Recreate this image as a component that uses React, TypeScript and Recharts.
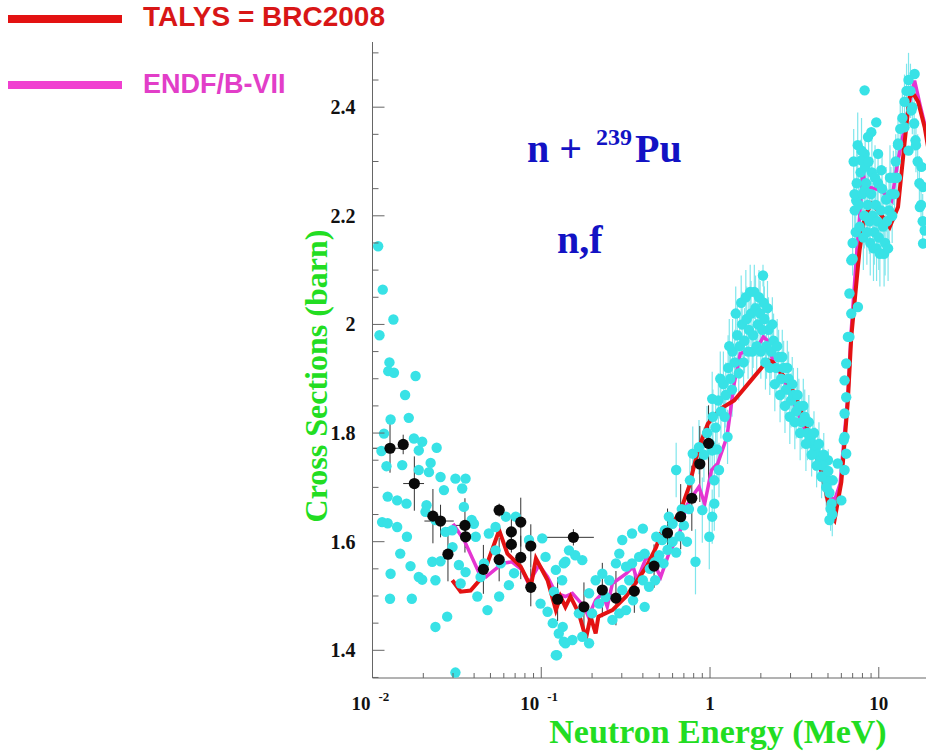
import React from "react";
import {
  ComposedChart,
  XAxis,
  YAxis,
  Scatter,
  Line,
  ErrorBar,
  Customized,
} from "recharts";

// ---- axis ticks ----
const xTicks = [
  0.01, 0.02, 0.03, 0.04, 0.05, 0.06, 0.07, 0.08, 0.09, 0.1, 0.2, 0.3, 0.4,
  0.5, 0.6, 0.7, 0.8, 0.9, 1, 2, 3, 4, 5, 6, 7, 8, 9, 10, 20,
];
const xMajor = [0.01, 0.1, 1, 10];
const xMajorBase = ["10", "10", "1", "10"];
const xMajorExp = ["-2", "-1", "", ""];

const yTicks = [
  1.35, 1.4, 1.45, 1.5, 1.55, 1.6, 1.65, 1.7, 1.75, 1.8, 1.85, 1.9, 1.95, 2,
  2.05, 2.1, 2.15, 2.2, 2.25, 2.3, 2.35, 2.4, 2.45, 2.5,
];
const yMajor = [1.4, 1.6, 1.8, 2, 2.2, 2.4];
const yMajorLabel = ["1.4", "1.6", "1.8", "2", "2.2", "2.4"];

// ---- data: [energy MeV, sigma barn] ----
const cyanDots: [number, number][] = [
  [0.0108, 2.144], [0.0115, 2.064], [0.0133, 2.009], [0.011, 1.98], [0.0126, 1.93],
  [0.0124, 1.914], [0.0134, 1.911], [0.018, 1.905], [0.0156, 1.87], [0.0128, 1.825],
  [0.0164, 1.828], [0.0117, 1.799], [0.0176, 1.79], [0.0197, 1.784], [0.024, 1.773],
  [0.0113, 1.767], [0.0188, 1.768], [0.0121, 1.739], [0.015, 1.741], [0.0221, 1.745],
  [0.0188, 1.732], [0.0216, 1.728], [0.0253, 1.719], [0.031, 1.716], [0.0356, 1.716],
  [0.0265, 1.695], [0.034, 1.698], [0.0123, 1.683], [0.014, 1.676], [0.0159, 1.67],
  [0.0209, 1.667], [0.0348, 1.664], [0.0206, 1.655], [0.0387, 1.64], [0.0114, 1.636],
  [0.0123, 1.634], [0.014, 1.627], [0.016, 1.609], [0.0236, 1.64], [0.0271, 1.618],
  [0.0297, 1.621], [0.0399, 1.633], [0.0146, 1.578], [0.0168, 1.555], [0.0226, 1.563],
  [0.0253, 1.564], [0.0298, 1.59], [0.0325, 1.557], [0.0409, 1.609], [0.0356, 1.544],
  [0.0489, 1.615], [0.0536, 1.584], [0.0437, 1.535], [0.0458, 1.56], [0.0128, 1.541],
  [0.0188, 1.535], [0.0197, 1.53], [0.0236, 1.529], [0.0333, 1.523], [0.0127, 1.495],
  [0.0171, 1.495], [0.0418, 1.499], [0.048, 1.474], [0.0563, 1.499], [0.0277, 1.462],
  [0.0236, 1.443], [0.031, 1.359], [0.0575, 1.56], [0.0536, 1.627], [0.0617, 1.646],
  [0.0706, 1.646], [0.069, 1.542], [0.0643, 1.52], [0.0846, 1.603], [0.1013, 1.606],
  [0.099, 1.486], [0.109, 1.471], [0.119, 1.508], [0.133, 1.529], [0.127, 1.431],
  [0.124, 1.391], [0.136, 1.416], [0.136, 1.56], [0.106, 1.572], [0.122, 1.548],
  [0.139, 1.563], [0.159, 1.575], [0.175, 1.566], [0.146, 1.584], [0.117, 1.45],
  [0.134, 1.443], [0.139, 1.413], [0.153, 1.419], [0.175, 1.425], [0.192, 1.413],
  [0.122, 1.391], [0.167, 1.468], [0.2, 1.468], [0.22, 1.486], [0.192, 1.505],
  [0.21, 1.529], [0.23, 1.541], [0.253, 1.529], [0.241, 1.498], [0.264, 1.456],
  [0.29, 1.468], [0.318, 1.474], [0.302, 1.511], [0.332, 1.529], [0.318, 1.554],
  [0.29, 1.578], [0.302, 1.603], [0.345, 1.615], [0.4, 1.624], [0.277, 1.56],
  [0.345, 1.56], [0.38, 1.572], [0.41, 1.578], [0.4, 1.529], [0.435, 1.517],
  [0.473, 1.529], [0.41, 1.48], [0.35, 1.492], [0.54, 1.621], [0.57, 1.646],
  [0.48, 1.609], [0.52, 1.603], [0.6, 1.633], [0.44, 1.55], [0.47, 1.562],
  [0.5, 1.575], [0.53, 1.56], [0.56, 1.585], [0.6, 1.6], [0.63, 1.58],
  [0.66, 1.61], [0.7, 1.63], [0.73, 1.6], [0.75, 1.66], [0.68, 1.66],
  [5.0, 1.75], [5.33, 1.713], [5.1, 1.64], [5.71, 1.744], [6.0, 1.676],
  [6.41, 1.762], [6.27, 1.793], [6.27, 1.836], [6.41, 1.866], [6.27, 1.897],
  [6.41, 1.928], [6.7, 1.977], [6.87, 2.02], [6.7, 2.057], [7.52, 2.032],
  [6.2, 1.787], [6.27, 1.732], [6.56, 1.977], [6.87, 2.118], [7.0, 2.121],
  [8.24, 2.431], [9.66, 2.372], [9.03, 2.354], [8.63, 2.345], [8.24, 2.314],
  [9.9, 2.314], [7.87, 2.302], [7.35, 2.228], [7.18, 2.24], [8.24, 2.247],
  [10.35, 2.284], [13.0, 2.333], [14.2, 2.363], [15.6, 2.394], [16.3, 2.461],
  [15.0, 2.32], [16.5, 2.339], [17.9, 2.29], [18.3, 2.253], [17.5, 2.216],
  [18.7, 2.173], [18.3, 2.149],
];

// [energy, sigma, error] - the dense measured band with error bars
const cyanBand: [number, number, number][] = [
  [0.63, 1.732, 0.05], [0.76, 1.713, 0.05], [0.79, 1.762, 0.05], [0.82, 1.563, 0.06],
  [0.86, 1.774, 0.05], [0.9, 1.658, 0.06], [0.99, 1.609, 0.06], [1.03, 1.646, 0.05],
  [1.06, 1.713, 0.05], [1.03, 1.768, 0.05], [1.06, 1.67, 0.05], [1.13, 1.732, 0.05],
  [1.27, 1.793, 0.05], [1.03, 1.863, 0.05],
  [0.92, 1.76, 0.05], [0.96, 1.8, 0.05], [1.0, 1.78, 0.05], [1.04, 1.83, 0.05],
  [1.08, 1.81, 0.05], [1.12, 1.86, 0.05], [1.16, 1.84, 0.05], [1.2, 1.89, 0.06],
  [1.24, 1.87, 0.06], [1.28, 1.92, 0.06], [1.32, 1.9, 0.06], [1.36, 1.95, 0.06],
  [1.4, 1.93, 0.06], [1.45, 1.98, 0.06], [1.5, 1.96, 0.06], [1.55, 2.0, 0.06],
  [1.6, 1.97, 0.06], [1.65, 2.01, 0.06], [1.7, 1.99, 0.06], [1.75, 2.02, 0.06],
  [1.8, 1.98, 0.06], [1.86, 2.03, 0.06], [1.92, 2.0, 0.06], [1.98, 2.02, 0.06],
  [2.04, 1.99, 0.06], [2.06, 2.09, 0.02], [2.1, 2.01, 0.06], [2.16, 1.96, 0.06],
  [2.22, 1.99, 0.06], [2.3, 1.95, 0.05], [2.38, 1.97, 0.05], [2.46, 1.92, 0.05],
  [2.55, 1.94, 0.05], [2.64, 1.9, 0.05], [2.73, 1.92, 0.05], [2.82, 1.88, 0.05],
  [2.92, 1.9, 0.05], [3.02, 1.86, 0.05], [3.12, 1.87, 0.05], [3.24, 1.84, 0.05],
  [3.36, 1.85, 0.05], [3.5, 1.82, 0.05], [3.64, 1.83, 0.05], [3.78, 1.8, 0.05],
  [3.92, 1.79, 0.04], [4.06, 1.78, 0.04], [4.2, 1.77, 0.04], [4.35, 1.76, 0.04],
  [4.5, 1.75, 0.04], [4.65, 1.74, 0.04], [4.8, 1.72, 0.04], [4.95, 1.71, 0.04],
  [5.1, 1.69, 0.04], [5.25, 1.67, 0.04],
  [1.1, 1.77, 0.05], [1.15, 1.9, 0.05], [1.22, 1.83, 0.05], [1.3, 1.96, 0.05],
  [1.35, 1.88, 0.05], [1.42, 2.02, 0.05], [1.48, 1.91, 0.05], [1.53, 2.04, 0.05],
  [1.58, 1.93, 0.05], [1.63, 2.05, 0.05], [1.68, 1.95, 0.05], [1.73, 2.06, 0.05],
  [1.78, 1.95, 0.05], [1.83, 2.06, 0.05], [1.89, 1.96, 0.05], [1.95, 2.05, 0.05],
  [2.0, 1.95, 0.05], [2.08, 2.04, 0.05], [2.13, 1.93, 0.05], [2.19, 2.03, 0.05],
  [2.26, 1.92, 0.05], [2.34, 2.0, 0.05], [2.42, 1.89, 0.05], [2.5, 1.96, 0.05],
  [2.6, 1.87, 0.05], [2.68, 1.94, 0.05], [2.78, 1.85, 0.05], [2.87, 1.92, 0.05],
  [2.97, 1.83, 0.05], [3.07, 1.89, 0.05], [3.18, 1.82, 0.05], [3.3, 1.87, 0.05],
  [3.42, 1.8, 0.05], [3.57, 1.85, 0.05], [3.7, 1.78, 0.05], [3.85, 1.82, 0.05],
  [4.0, 1.76, 0.04], [4.13, 1.8, 0.04], [4.28, 1.74, 0.04], [4.42, 1.78, 0.04],
  [4.58, 1.72, 0.04], [4.72, 1.76, 0.04], [4.88, 1.7, 0.04], [5.02, 1.73, 0.04],
  [5.18, 1.66, 0.04], [5.3, 1.65, 0.04],
  [7.0, 2.15, 0.06], [7.2, 2.21, 0.06], [7.4, 2.26, 0.06], [7.6, 2.22, 0.06],
  [7.8, 2.28, 0.06], [8.0, 2.24, 0.06], [8.2, 2.2, 0.06], [8.4, 2.26, 0.06],
  [8.6, 2.22, 0.06], [8.8, 2.19, 0.06], [9.0, 2.24, 0.06], [9.2, 2.2, 0.06],
  [9.4, 2.17, 0.06], [9.6, 2.22, 0.06], [9.8, 2.19, 0.06], [10.0, 2.16, 0.06],
  [10.3, 2.21, 0.06], [10.6, 2.18, 0.06], [10.9, 2.15, 0.06], [11.2, 2.19, 0.06],
  [11.5, 2.21, 0.06], [11.8, 2.24, 0.05], [12.2, 2.27, 0.05], [12.6, 2.3, 0.05],
  [13.0, 2.33, 0.05], [13.4, 2.36, 0.05], [13.8, 2.38, 0.05], [14.2, 2.41, 0.05],
  [14.6, 2.43, 0.05], [15.0, 2.45, 0.05], [15.4, 2.43, 0.05], [15.8, 2.4, 0.05],
  [16.2, 2.37, 0.05], [16.6, 2.33, 0.05], [17.0, 2.3, 0.05], [17.4, 2.26, 0.05],
  [17.8, 2.22, 0.05], [18.2, 2.19, 0.05],
  [7.1, 2.3, 0.06], [7.3, 2.17, 0.06], [7.5, 2.33, 0.06], [7.7, 2.18, 0.06],
  [7.9, 2.32, 0.06], [8.1, 2.16, 0.06], [8.3, 2.29, 0.06], [8.5, 2.17, 0.06],
  [8.7, 2.3, 0.06], [8.9, 2.15, 0.06], [9.1, 2.28, 0.06], [9.3, 2.14, 0.06],
  [9.5, 2.27, 0.06], [9.7, 2.14, 0.06], [9.9, 2.26, 0.06], [10.15, 2.13, 0.06],
  [10.45, 2.25, 0.06], [10.75, 2.13, 0.06], [11.05, 2.23, 0.06], [11.35, 2.14, 0.06],
  [11.65, 2.27, 0.06], [12.0, 2.2, 0.05], [12.4, 2.24, 0.05], [12.8, 2.27, 0.05],
];

// [energy, sigma, yErr, xErrLow, xErrHigh]
const blackPoints: [number, number, number, number, number][] = [
  [0.0127, 1.772, 0.045, 0.0027, 0.0025], [0.0152, 1.779, 0.018, 0, 0],
  [0.0177, 1.707, 0.05, 0.0025, 0.0025], [0.0228, 1.647, 0.05, 0, 0],
  [0.0253, 1.638, 0.03, 0.005, 0.005], [0.028, 1.577, 0.05, 0, 0],
  [0.0353, 1.63, 0.05, 0.0055, 0.0056], [0.0356, 1.609, 0.02, 0, 0],
  [0.0454, 1.549, 0.045, 0, 0], [0.0563, 1.658, 0.012, 0, 0],
  [0.0563, 1.567, 0.04, 0, 0], [0.0665, 1.618, 0.03, 0, 0],
  [0.0665, 1.595, 0.015, 0, 0], [0.0756, 1.636, 0.045, 0, 0],
  [0.0756, 1.571, 0.04, 0, 0], [0.0867, 1.592, 0.04, 0, 0],
  [0.0867, 1.516, 0.035, 0, 0], [0.155, 1.608, 0.015, 0.049, 0.05],
  [0.125, 1.494, 0.04, 0, 0], [0.179, 1.48, 0.045, 0, 0],
  [0.23, 1.511, 0.05, 0, 0], [0.277, 1.496, 0.05, 0, 0],
  [0.356, 1.509, 0.04, 0, 0], [0.466, 1.555, 0.04, 0, 0],
  [0.56, 1.616, 0.045, 0, 0], [0.67, 1.646, 0.06, 0, 0],
  [0.78, 1.68, 0.06, 0, 0], [0.87, 1.743, 0.07, 0, 0],
  [0.98, 1.781, 0.07, 0, 0],
];

const talys: [number, number][] = [
  [0.0297, 1.529], [0.0333, 1.508], [0.0381, 1.51], [0.0448, 1.535], [0.0563, 1.621],
  [0.063, 1.578], [0.0756, 1.554], [0.0867, 1.517], [0.093, 1.569], [0.109, 1.529],
  [0.122, 1.474], [0.13, 1.499], [0.139, 1.48], [0.149, 1.499], [0.167, 1.468],
  [0.184, 1.422], [0.196, 1.462], [0.21, 1.431], [0.218, 1.462], [0.264, 1.474],
  [0.318, 1.499], [0.36, 1.523], [0.42, 1.554], [0.48, 1.59], [0.51, 1.615],
  [0.57, 1.627], [0.66, 1.652], [0.75, 1.701], [0.82, 1.75], [0.9, 1.79],
  [0.97, 1.817], [1.16, 1.845], [1.39, 1.86], [1.75, 1.897], [2.2, 1.934],
  [2.35, 1.931], [2.76, 1.903], [3.17, 1.873], [3.8, 1.805], [4.56, 1.732],
  [5.17, 1.652], [5.47, 1.64], [6.0, 1.71], [6.56, 1.86], [6.87, 1.977],
  [7.18, 2.04], [7.52, 2.106], [7.69, 2.136], [8.24, 2.198], [9.03, 2.222],
  [9.9, 2.21], [11.6, 2.179], [13.0, 2.216], [14.2, 2.333], [15.2, 2.418],
  [16.0, 2.425], [17.1, 2.41], [18.7, 2.363], [20, 2.31],
];

const endf: [number, number][] = [
  [0.03, 1.633], [0.035, 1.602], [0.043, 1.541], [0.047, 1.535], [0.059, 1.56],
  [0.067, 1.563], [0.077, 1.548], [0.084, 1.523], [0.097, 1.557], [0.109, 1.535],
  [0.122, 1.505], [0.139, 1.499], [0.153, 1.505], [0.18, 1.48], [0.19, 1.462],
  [0.21, 1.492], [0.23, 1.505], [0.246, 1.48], [0.264, 1.523], [0.318, 1.541],
  [0.35, 1.554], [0.37, 1.529], [0.42, 1.572], [0.455, 1.566], [0.51, 1.535],
  [0.57, 1.578], [0.66, 1.615], [0.72, 1.664], [0.78, 1.682], [0.86, 1.701],
  [0.93, 1.67], [1.02, 1.732], [1.11, 1.744], [1.26, 1.793], [1.39, 1.891],
  [1.51, 1.946], [1.66, 1.952], [1.81, 1.946], [2.07, 1.977], [2.2, 1.97],
  [2.35, 1.934], [2.76, 1.897], [3.28, 1.842], [3.8, 1.793], [4.4, 1.744],
  [4.98, 1.689], [5.47, 1.676], [5.9, 1.707], [6.56, 1.87], [6.87, 1.99],
  [7.35, 2.12], [7.7, 2.2], [8.05, 2.284], [8.24, 2.26], [8.63, 2.253],
  [10.35, 2.247], [11.9, 2.228], [13.0, 2.302], [15.6, 2.425], [16.3, 2.449],
  [17.5, 2.406], [19, 2.36], [20, 2.32],
];

// ---- styles ----
const AXIS = "#666";
const SERIF = "'Liberation Serif', 'Times New Roman', serif";
const SANS = "'Liberation Sans', Arial, sans-serif";
const CYAN = "#38e2e6";
const CYAN_ERR = "#7fe6ec";
const RED = "#e31212";
const MAGENTA = "#e535d2";
const GREEN = "#22dd22";
const BLUE = "#1212c4";

const cyanData = cyanDots.map(([e, v]) => ({ e, v }));
const bandData = cyanBand.map(([e, v, err]) => ({ e, v, err }));
const blackData = blackPoints.map(([e, v, ey, xl, xh]) => ({ e, v, ey, ex: [xl, xh] }));
const talysData = talys.map(([e, v]) => ({ e, v }));
const endfData = endf.map(([e, v]) => ({ e, v }));

function BottomTick(props: any) {
  const { x, y, payload } = props;
  const i = xMajor.indexOf(payload.value);
  const major = i >= 0;
  return (
    <g>
      <line x1={x} y1={y} x2={x} y2={y - (major ? 11 : 5)} stroke={AXIS} />
      {major && xMajorExp[i] !== "" && (
        <g fontFamily={SERIF} fontWeight="bold" fill="#111">
          <text x={x - 2} y={y + 32} textAnchor="end" fontSize={19}>
            {xMajorBase[i]}
          </text>
          <text x={x + 6} y={y + 23} textAnchor="start" fontSize={13}>
            {xMajorExp[i]}
          </text>
        </g>
      )}
      {major && xMajorExp[i] === "" && (
        <text
          x={x}
          y={y + 32}
          textAnchor="middle"
          fontSize={19}
          fontFamily={SERIF}
          fontWeight="bold"
          fill="#111"
        >
          {xMajorBase[i]}
        </text>
      )}
    </g>
  );
}

function TopTick(props: any) {
  const { x, y, payload } = props;
  const major = xMajor.includes(payload.value);
  return <line x1={x} y1={y} x2={x} y2={y + (major ? 12 : 5)} stroke={AXIS} />;
}

function LeftTick(props: any) {
  const { x, y, payload } = props;
  const i = yMajor.indexOf(payload.value);
  return (
    <g>
      <line x1={x} y1={y} x2={x + (i >= 0 ? 12 : 6)} y2={y} stroke={AXIS} />
      {i >= 0 && (
        <text
          x={x - 17}
          y={y + 7}
          textAnchor="end"
          fontSize={20}
          fontFamily={SERIF}
          fontWeight="bold"
          fill="#111"
        >
          {yMajorLabel[i]}
        </text>
      )}
    </g>
  );
}

function RightTick(props: any) {
  const { x, y, payload } = props;
  const major = yMajor.includes(payload.value);
  return <line x1={x} y1={y} x2={x - (major ? 12 : 6)} y2={y} stroke={AXIS} />;
}

const cyanShape = (p: any) => <circle cx={p.cx} cy={p.cy} r={5.2} fill={CYAN} />;
const blackShape = (p: any) => <circle cx={p.cx} cy={p.cy} r={5.6} fill="#0a0a0a" />;

// legend, titles and the reaction label
function Annotations() {
  return (
    <g>
      <line x1={8} y1={19} x2={122} y2={19} stroke={RED} strokeWidth={8} />
      <text x={143} y={26} fontFamily={SANS} fontWeight="bold" fontSize={28} fill="#d81616">
        TALYS = BRC2008
      </text>
      <line x1={8} y1={85} x2={122} y2={85} stroke="#f040d0" strokeWidth={8} />
      <text x={143} y={93} fontFamily={SANS} fontWeight="bold" fontSize={27} fill="#e23ec8">
        ENDF/B-VII
      </text>

      <g fontFamily={SERIF} fontWeight="bold" fill={BLUE}>
        <text x={527} y={162} fontSize={40}>n +</text>
        <text x={596} y={145} fontSize={24}>239</text>
        <text x={635} y={162} fontSize={40}>Pu</text>
        <text x={557} y={253} fontSize={40}>n,f</text>
      </g>

      <text
        x={718}
        y={743}
        textAnchor="middle"
        fontFamily={SERIF}
        fontWeight="bold"
        fontSize={34}
        fill={GREEN}
      >
        Neutron Energy (MeV)
      </text>
      <text
        transform="translate(327,376) rotate(-90)"
        textAnchor="middle"
        fontFamily={SERIF}
        fontWeight="bold"
        fontSize={32}
        fill={GREEN}
      >
        Cross Sections (barn)
      </text>
    </g>
  );
}

export default function App() {
  return (
    <div
      style={{
        position: "absolute",
        left: 0,
        top: 0,
        width: 926,
        height: 751,
        overflow: "hidden",
        background: "#fff",
      }}
    >
      <ComposedChart
        width={940}
        height={751}
        margin={{ top: 42, right: 10.4, bottom: 33, left: 312.5 }}
      >
        <XAxis
          dataKey="e"
          type="number"
          scale="log"
          domain={[0.01, 20]}
          allowDataOverflow
          ticks={xTicks}
          interval={0}
          tickSize={0}
          tickMargin={0}
          tickLine={false}
          tick={BottomTick}
          axisLine={{ stroke: AXIS }}
          height={40}
        />
        <XAxis
          xAxisId="top"
          orientation="top"
          dataKey="e"
          type="number"
          scale="log"
          domain={[0.01, 20]}
          allowDataOverflow
          ticks={xTicks}
          interval={0}
          tickSize={0}
          tickMargin={0}
          tickLine={false}
          tick={TopTick}
          axisLine={{ stroke: AXIS }}
          height={0}
        />
        <YAxis
          type="number"
          domain={[1.349, 2.52]}
          allowDataOverflow
          ticks={yTicks}
          interval={0}
          tickSize={0}
          tickMargin={0}
          tickLine={false}
          tick={LeftTick}
          axisLine={{ stroke: AXIS }}
          width={60}
        />
        <YAxis
          yAxisId="right"
          orientation="right"
          type="number"
          domain={[1.349, 2.52]}
          allowDataOverflow
          ticks={yTicks}
          interval={0}
          tickSize={0}
          tickMargin={0}
          tickLine={false}
          tick={RightTick}
          axisLine={{ stroke: AXIS }}
          width={0}
        />

        <Scatter data={cyanData} dataKey="v" shape={cyanShape} isAnimationActive={false} />
        <Scatter data={bandData} dataKey="v" shape={cyanShape} isAnimationActive={false}>
          <ErrorBar dataKey="err" direction="y" width={0} stroke={CYAN_ERR} strokeWidth={1.2} />
        </Scatter>
        <Scatter data={blackData} dataKey="v" shape={blackShape} isAnimationActive={false}>
          <ErrorBar dataKey="ey" direction="y" width={0} stroke="#333" strokeWidth={1} />
          <ErrorBar dataKey="ex" direction="x" width={0} stroke="#333" strokeWidth={1} />
        </Scatter>
        <Line
          data={endfData}
          dataKey="v"
          type="linear"
          stroke={MAGENTA}
          strokeWidth={3.5}
          dot={false}
          isAnimationActive={false}
        />
        <Line
          data={talysData}
          dataKey="v"
          type="linear"
          stroke={RED}
          strokeWidth={4}
          dot={false}
          isAnimationActive={false}
        />
        <Customized component={Annotations} />
      </ComposedChart>
    </div>
  );
}
